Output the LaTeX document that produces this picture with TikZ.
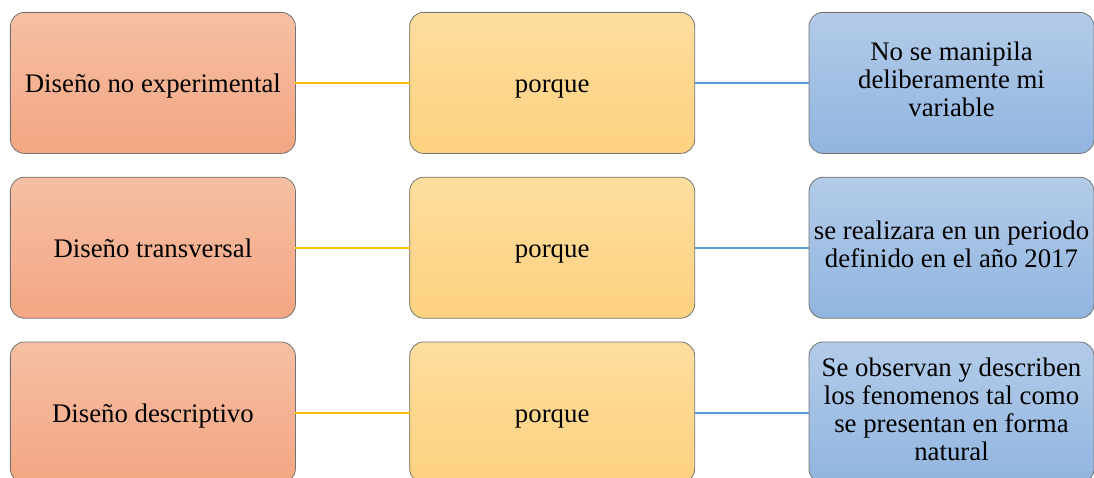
\documentclass[tikz,border=0pt]{standalone}
\usepackage{fontspec}
\setmainfont{Liberation Serif}
\usetikzlibrary{matrix}

\definecolor{salmontop}{HTML}{F6BFA3}
\definecolor{salmonbot}{HTML}{F3A683}
\definecolor{sandtop}{HTML}{FEDD9E}
\definecolor{sandbot}{HTML}{FDD27F}
\definecolor{skytop}{HTML}{B3CBE8}
\definecolor{skybot}{HTML}{91B5E0}
\definecolor{goldline}{HTML}{FFC000}
\definecolor{blueline}{HTML}{5B9BD5}

\begin{document}
\begin{tikzpicture}[x=1pt,y=1pt]
    \useasboundingbox (0,0) rectangle (1094,-478);
    \matrix[matrix of nodes,nodes={draw=black!55, line width=0.8pt, rounded corners=14pt, minimum width=285pt, minimum height=141pt, inner sep=0pt, font=\fontsize{26.8}{28}\selectfont, anchor=center},
      column 1/.style={nodes={top color=salmontop, bottom color=salmonbot, execute at begin node=\rule[-7pt]{0pt}{33pt}}},
      column 2/.style={nodes={top color=sandtop, bottom color=sandbot, execute at begin node=\rule[-7pt]{0pt}{33pt}}},
      column 3/.style={nodes={top color=skytop, bottom color=skybot}},
      column sep=113.5pt, row sep=23pt, inner sep=0pt, outer sep=0pt, anchor=north west] (m) at (10,-12) {
      Diseño no experimental & porque & {\begin{tabular}{@{}c@{}}No se manipila\\ deliberamente mi\\ variable\end{tabular}} \\
      Diseño transversal & porque & {\begin{tabular}{@{}c@{}}se realizara en un periodo\\ definido en el año 2017\end{tabular}} \\
      Diseño descriptivo & porque & {\begin{tabular}{@{}c@{}}Se observan y describen\\ los fenomenos tal como\\ se presentan en forma\\ natural\end{tabular}} \\
    };
    \draw[goldline, line width=2pt] (m-1-1) -- (m-1-2);
    \draw[goldline, line width=2pt] (m-2-1) -- (m-2-2);
    \draw[goldline, line width=2pt] (m-3-1) -- (m-3-2);
    \draw[blueline, line width=2pt] (m-1-2) -- (m-1-3);
    \draw[blueline, line width=2pt] (m-2-2) -- (m-2-3);
    \draw[blueline, line width=2pt] (m-3-2) -- (m-3-3);
\end{tikzpicture}
\end{document}
